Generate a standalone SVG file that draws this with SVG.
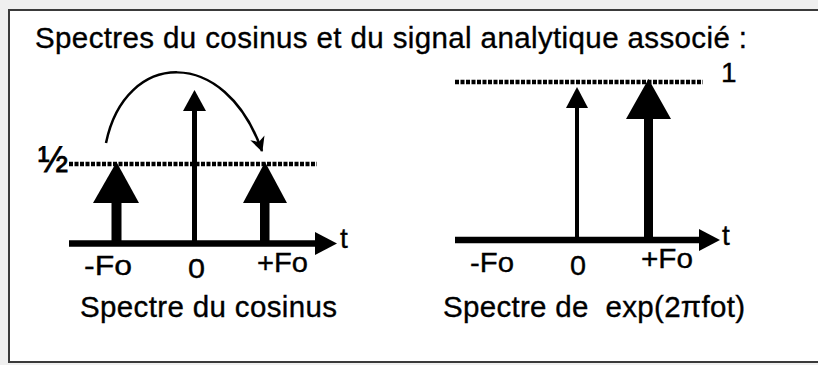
<svg xmlns="http://www.w3.org/2000/svg" width="818" height="365" viewBox="0 0 818 365">
<style>
text{font-family:"Liberation Sans",Arial,sans-serif;fill:#000;stroke:#000;stroke-width:0.35;white-space:pre}
.t{font-size:29.5px}
.l{font-size:28px}
.ax{stroke:#000;stroke-width:6.5;fill:none}
.dash{stroke:#000;stroke-width:4.5;stroke-dasharray:4 1.5;fill:none}
.tri{fill:#000}
</style>
<defs>
<marker id="curveHead" viewBox="0 0 14 14" refX="13" refY="7" markerWidth="15" markerHeight="15" markerUnits="userSpaceOnUse" orient="auto">
<path d="M0,0 L14,7 L0,14 L4,7 Z" fill="#000"/>
</marker>
</defs>
<rect x="0" y="0" width="818" height="365" fill="#efefef"/>
<rect x="9" y="10" width="820" height="352" fill="#fff" stroke="#3a3a3a" stroke-width="2"/>
<text class="t" x="35" y="48" textLength="712">Spectres du cosinus et du signal analytique associé :</text>

<g id="left-plot">
<g id="left-dashed"><line class="dash" x1="69" y1="164" x2="317" y2="164"/>
<text x="38" y="172" style="font-size:36px;stroke-width:0.8">½</text></g>
<g id="left-axis"><line class="ax" x1="69" y1="243.5" x2="318" y2="243.5"/>
<polygon class="tri" points="315,232 337,243.5 315,255"/>
<text class="l" x="340" y="248">t</text></g>
<g id="left-neg"><rect x="111.5" y="200" width="10" height="44" fill="#000"/>
<polygon class="tri" points="93,203 116.5,162 139,203"/>
<text class="l" x="84" y="275" textLength="48" lengthAdjust="spacingAndGlyphs">-Fo</text></g>
<g id="left-zero"><line x1="194.5" y1="108" x2="194.5" y2="244" stroke="#000" stroke-width="5"/>
<polygon class="tri" points="183,111 194.5,90 206,111"/>
<text class="l" x="188" y="278" textLength="17" lengthAdjust="spacingAndGlyphs">0</text></g>
<g id="left-pos"><rect x="260" y="200" width="9.5" height="44" fill="#000"/>
<polygon class="tri" points="243,203 265,162 287,203"/>
<text class="l" x="257" y="272" textLength="51" lengthAdjust="spacingAndGlyphs">+Fo</text></g>
<text class="t" x="80" y="317" textLength="257">Spectre du cosinus</text>
</g>

<g id="connectors">
<path d="M106,143 C125,50 225,45 262,151" fill="none" stroke="#000" stroke-width="2.5" marker-end="url(#curveHead)"/>
</g>

<g id="right-plot">
<g id="right-dashed"><line class="dash" x1="455" y1="82" x2="703" y2="82"/>
<text class="l" x="721" y="82">1</text></g>
<g id="right-axis"><line class="ax" x1="455" y1="240" x2="702" y2="240"/>
<polygon class="tri" points="699,229 720,240 699,251"/>
<text class="l" x="722" y="245">t</text></g>
<g id="right-zero"><line x1="577" y1="105" x2="577" y2="240" stroke="#000" stroke-width="4"/>
<polygon class="tri" points="566,108 577,87 588,108"/>
<text class="l" x="570" y="275" textLength="16" lengthAdjust="spacingAndGlyphs">0</text></g>
<g id="right-pos"><rect x="644" y="116" width="9" height="125" fill="#000"/>
<polygon class="tri" points="626,119 648.5,79 671,119"/>
<text class="l" x="641" y="268" textLength="52" lengthAdjust="spacingAndGlyphs">+Fo</text></g>
<text class="l" x="470" y="272" textLength="44" lengthAdjust="spacingAndGlyphs">-Fo</text>
<text class="t" x="443" y="317" textLength="302">Spectre de  exp(2πfot)</text>
</g>
</svg>
